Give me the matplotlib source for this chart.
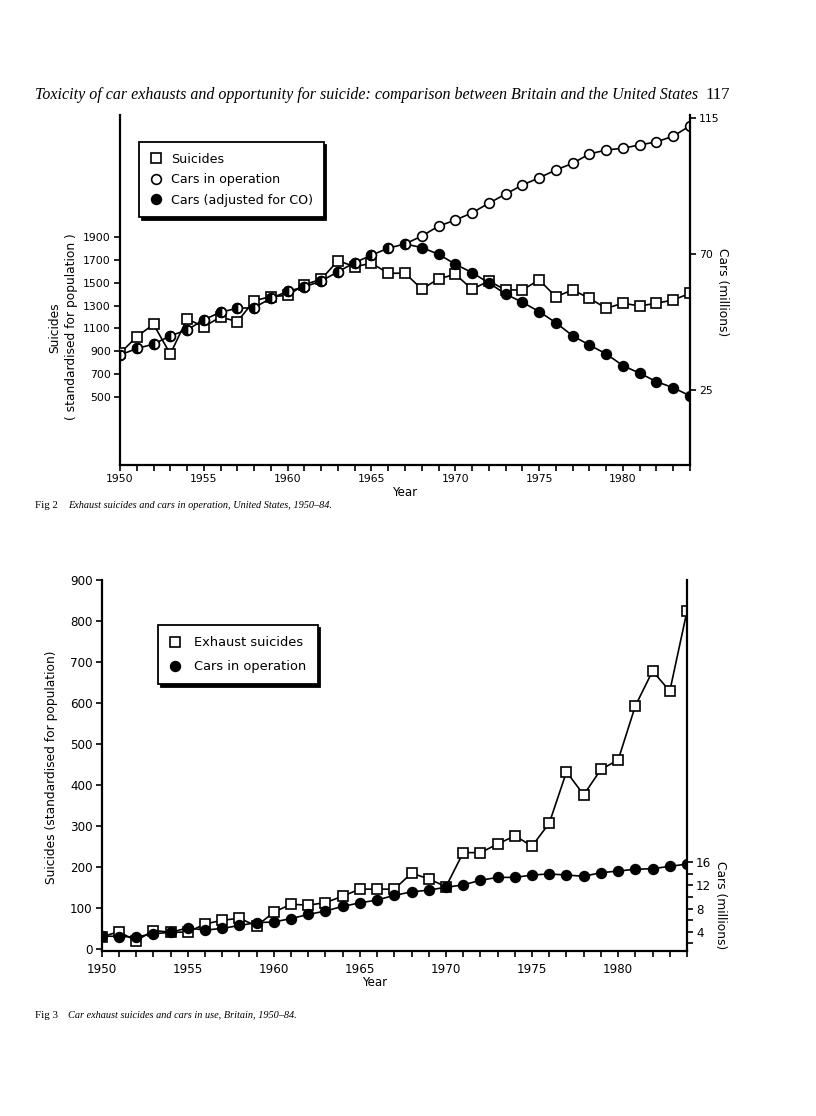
import matplotlib
matplotlib.use("Agg")
import matplotlib.pyplot as plt
from matplotlib.lines import Line2D

W, H, DPI = 816, 1116, 100

years = list(range(1950, 1985))

# Fig 2 - United States
us_suicides = [883, 1028, 1136, 877, 1183, 1115, 1200, 1159, 1342, 1378,
               1388, 1482, 1529, 1692, 1639, 1669, 1582, 1582, 1444, 1532,
               1573, 1442, 1514, 1436, 1436, 1523, 1377, 1436, 1363, 1276,
               1320, 1296, 1320, 1348, 1407]
us_cars = [36.4, 38.6, 40.0, 42.8, 44.7, 48.1, 50.6, 51.9, 52.1, 55.2,
           57.5, 59.0, 60.9, 64.0, 67.0, 69.5, 71.8, 73.2, 75.8, 79.1,
           81.1, 83.5, 86.7, 89.7, 92.7, 95.1, 97.7, 99.9, 103.0, 104.3,
           104.9, 106.0, 107.0, 108.9, 112.3]
us_cars_co = [36.4, 38.6, 40.0, 42.8, 44.7, 48.1, 50.6, 51.9, 52.1, 55.2,
              57.5, 59.0, 60.9, 64.0, 67.0, 69.5, 71.8, 73.2, 72.0, 69.8,
              66.5, 63.7, 60.3, 56.6, 53.9, 50.8, 47.1, 42.8, 39.7, 36.8,
              32.9, 30.4, 27.6, 25.6, 22.9]
n_same = 18  # 1950-67 both car series coincide

# Fig 3 - Britain
uk_suicides = [30, 42, 20, 45, 41, 41, 61, 70, 75, 56,
               90, 109, 107, 113, 129, 146, 146, 146, 185, 171,
               152, 235, 235, 256, 276, 251, 307, 432, 376, 438,
               461, 593, 678, 629, 824]
uk_cars = [3.3, 3.2, 3.1, 3.7, 3.9, 4.7, 4.3, 4.6, 5.1, 5.6,
           5.7, 6.3, 7.0, 7.6, 8.4, 9.0, 9.5, 10.3, 10.9, 11.2,
           11.7, 12.1, 12.9, 13.4, 13.4, 13.8, 14.0, 13.8, 13.6, 14.2,
           14.5, 14.8, 14.9, 15.3, 15.7]

plt.rcParams['font.family'] = ['DejaVu Sans']
SERIF = 'Liberation Serif'


def px_box(l, t, r, b):
    return [l / W, 1 - b / H, (r - l) / W, (b - t) / H]


def style_axes(ax, axr, size):
    for s in ['top', 'right']:
        ax.spines[s].set_visible(False)
    for s in ['top', 'left', 'bottom']:
        axr.spines[s].set_visible(False)
    for sp in [ax.spines['left'], ax.spines['bottom'], axr.spines['right']]:
        sp.set_linewidth(1.6)
    for a in (ax, axr):
        a.tick_params(which='both', direction='out', width=1.2, length=4.5,
                      labelsize=size, pad=2)
    ax.set_facecolor('none')


SQ_MS, CI_MS = 6.5, 7.0
sq = dict(color='k', lw=1.2, marker='s', ms=SQ_MS, mfc='white', mec='k', mew=1.2)
circ = dict(color='k', lw=1.2, marker='o', ms=CI_MS, mec='k', mew=1.2)

fig = plt.figure(figsize=(W / DPI, H / DPI), dpi=DPI)

fig.text(35 / W, 1 - 95 / H,
         'Toxicity of car exhausts and opportunity for suicide: comparison between Britain and the United States',
         family=SERIF, style='italic', size=11.5, va='center')
fig.text(705 / W, 1 - 95 / H, '117', family=SERIF, size=12, va='center')

# ---------- Fig 2 (US) ----------
ax1 = fig.add_axes(px_box(120, 115, 690, 465))
ax1r = ax1.twinx()
style_axes(ax1, ax1r, 7.8)

ax1.plot(years, us_suicides, zorder=3, **sq)
ax1r.plot(years, us_cars, mfc='white', **circ)
ax1r.plot(years[n_same - 1:], us_cars_co[n_same - 1:], mfc='k',
          markevery=list(range(1, len(years) - n_same + 1)), **circ)
ax1r.plot(years[:n_same], us_cars_co[:n_same], ls='none', marker='o', ms=CI_MS,
          mec='k', mew=1.2, fillstyle='left', mfc='k', mfcalt='white')

ax1.set_xlim(1950, 1984)
ax1.set_ylim(-92, 2963)
ax1r.set_ylim(0, 115.9)
ax1.set_xticks(range(1950, 1981, 5))
ax1.set_xticks(range(1950, 1985), minor=True)
ax1.set_yticks(range(500, 2000, 200))
ax1r.set_yticks([25, 70, 115])

fig.text(55 / W, 1 - 328 / H, 'Suicides', rotation=90, size=8.8,
         ha='center', va='center')
fig.text(72 / W, 1 - 327 / H, '( standardised for population )', rotation=90,
         size=8.8, ha='center', va='center')
fig.text(722 / W, 1 - 292 / H, 'Cars (millions)', rotation=270, size=8.8,
         ha='center', va='center')
fig.text(405 / W, 1 - 492 / H, 'Year', size=8.5, ha='center', va='center')

h1 = [Line2D([], [], ls='none', marker='s', ms=SQ_MS, mfc='white', mec='k', mew=1.2),
      Line2D([], [], ls='none', marker='o', ms=CI_MS, mfc='white', mec='k', mew=1.2),
      Line2D([], [], ls='none', marker='o', ms=CI_MS, mfc='k', mec='k', mew=1.2)]
leg1 = ax1r.legend(h1, ['Suicides', 'Cars in operation', 'Cars (adjusted for CO)'],
                   loc='upper left', bbox_to_anchor=((139 - 120) / 570, (465 - 142) / 350),
                   borderaxespad=0, fontsize=9.1, fancybox=False, framealpha=1,
                   edgecolor='k', borderpad=0.84, labelspacing=0.6,
                   handlelength=1.0, handletextpad=0.7,
                   shadow={'color': 'k', 'alpha': 1})
leg1.get_frame().set_linewidth(1.3)

fig.text(35 / W, 1 - 505 / H, 'Fig 2', family=SERIF, size=7.8, va='center')
fig.text(68 / W, 1 - 505 / H,
         'Exhaust suicides and cars in operation, United States, 1950\u201384.',
         family=SERIF, style='italic', size=7.4, va='center')

# ---------- Fig 3 (Britain) ----------
ax2 = fig.add_axes(px_box(101.7, 580, 687, 951))
ax2r = ax2.twinx()
style_axes(ax2, ax2r, 8.6)

ax2.plot(years, uk_suicides, zorder=3, **sq)
ax2r.plot(years, uk_cars, mfc='k', **circ)

ax2.set_xlim(1950, 1984)
ax2.set_ylim(-4.9, 900)
ax2r.set_ylim(0.7, 64.7)
ax2.set_xticks(range(1950, 1981, 5))
ax2.set_xticks(range(1950, 1985), minor=True)
ax2.set_yticks(range(0, 901, 100))
ax2r.set_yticks([4, 8, 12, 16])
ax2r.set_yticks([2, 6, 10, 14], minor=True)
ax2.tick_params(axis='x', pad=4)

fig.text(52 / W, 1 - 767 / H, 'Suicides (standardised for population)',
         rotation=90, size=8.8, ha='center', va='center')
fig.text(721 / W, 1 - 905 / H, 'Cars (millions)', rotation=270, size=8.8,
         ha='center', va='center')
fig.text(375 / W, 1 - 983 / H, 'Year', size=8.5, ha='center', va='center')

h2 = [Line2D([], [], ls='none', marker='s', ms=SQ_MS, mfc='white', mec='k', mew=1.2),
      Line2D([], [], ls='none', marker='o', ms=CI_MS, mfc='k', mec='k', mew=1.2)]
leg2 = ax2r.legend(h2, ['Exhaust suicides', 'Cars in operation'],
                   loc='upper left', bbox_to_anchor=((158 - 101.7) / 585.3, (951 - 625) / 371),
                   borderaxespad=0, fontsize=9.4, fancybox=False, framealpha=1,
                   edgecolor='k', borderpad=0.85, labelspacing=0.85,
                   handlelength=0.92, handletextpad=1.0,
                   shadow={'color': 'k', 'alpha': 1})
leg2.get_frame().set_linewidth(1.3)

fig.text(35 / W, 1 - 1015 / H, 'Fig 3', family=SERIF, size=7.8, va='center')
fig.text(68 / W, 1 - 1015 / H,
         'Car exhaust suicides and cars in use, Britain, 1950\u201384.',
         family=SERIF, style='italic', size=7.4, va='center')

fig.savefig('out.png', dpi=DPI)
